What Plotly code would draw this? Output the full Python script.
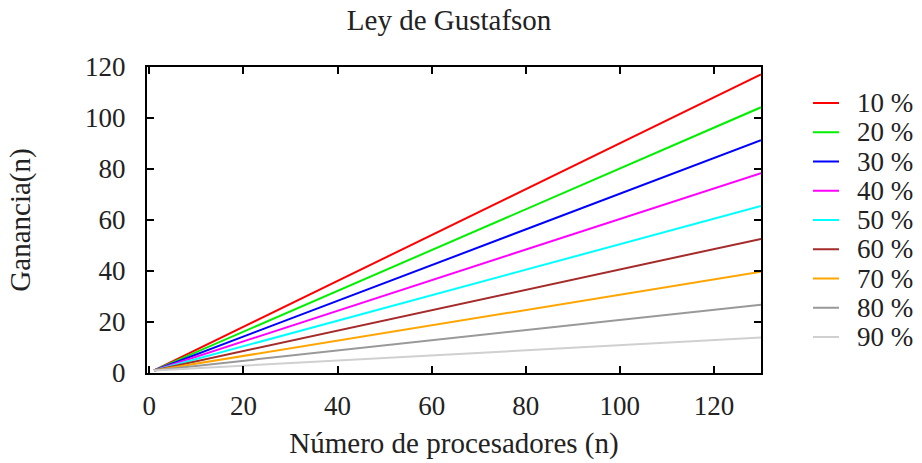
import plotly.graph_objects as go

n_procs = [1, 130]
labels = ["10 %", "20 %", "30 %", "40 %", "50 %", "60 %", "70 %", "80 %", "90 %"]
gain_start = [1, 1, 1, 1, 1, 1, 1, 1, 1]
gain_end = [117.1, 104.2, 91.3, 78.4, 65.5, 52.6, 39.7, 26.8, 13.9]
colors = ["#ff0000", "#00f000", "#0000ff", "#ff00ff", "#00ffff",
          "#a52a2a", "#ffa500", "#999999", "#d0d0d0"]
x_ticks = [0, 20, 40, 60, 80, 100, 120]
y_ticks = [0, 20, 40, 60, 80, 100, 120]

FONT = "Liberation Serif"
TXT = "#222"

fig = go.Figure()
for lab, y0, y1, c in zip(labels, gain_start, gain_end, colors):
    fig.add_trace(go.Scatter(x=n_procs, y=[y0, y1], mode="lines", name=lab,
                             line=dict(color=c, width=2), showlegend=False))

axis_common = dict(showgrid=False, zeroline=False, showline=True, linecolor="black",
                   linewidth=2, mirror="ticks", ticks="inside", ticklen=7,
                   tickwidth=1.5, tickcolor="black", automargin=False,
                   tickfont=dict(family=FONT, size=27, color=TXT))

# manual legend (gnuplot-style key)
plot_top, plot_bot = 67, 373
key_y0 = (plot_bot - 103) / (plot_bot - plot_top)
key_dy = 29.25 / (plot_bot - plot_top)
for i, (lab, c) in enumerate(zip(labels, colors)):
    yk = key_y0 - i * key_dy
    fig.add_shape(type="line", xref="paper", yref="paper", x0=1.0847, x1=1.127,
                  y0=yk, y1=yk, line=dict(color=c, width=2))
    fig.add_annotation(xref="paper", yref="paper", x=1.153, y=yk, text=lab,
                       showarrow=False, xanchor="left", yanchor="middle",
                       font=dict(family=FONT, size=27, color=TXT))

fig.update_layout(
    width=922, height=463,
    paper_bgcolor="white", plot_bgcolor="white",
    margin=dict(l=147, r=161, t=67, b=90),
    title=dict(text="Ley de Gustafson", x=0.492, xanchor="center", y=0.957, yanchor="middle",
               xref="paper", font=dict(family=FONT, size=29, color=TXT)),
    xaxis=dict(range=[-0.5, 130], tickvals=x_ticks, ticklabelstandoff=8,
               title=dict(text="Número de procesadores (n)",
                          font=dict(family=FONT, size=29, color=TXT), standoff=12),
               **axis_common),
    yaxis=dict(range=[0, 120], tickvals=y_ticks, ticklabelstandoff=14,
               title=dict(text="Ganancia(n)",
                          font=dict(family=FONT, size=29, color=TXT), standoff=46),
               **axis_common),
    showlegend=False,
)

fig.write_html("out.html")
